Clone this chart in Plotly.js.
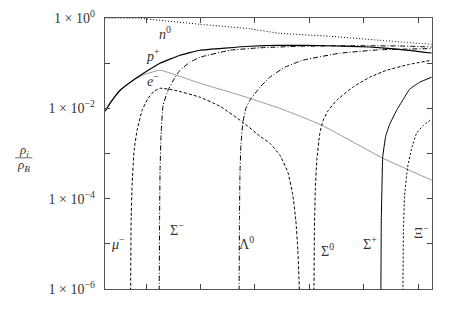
<!DOCTYPE html>
<html>
<head>
<meta charset="utf-8">
<script src="https://cdn.plot.ly/plotly-3.0.1.min.js"></script>
<style>html,body{margin:0;padding:0;background:#fff;}#chart{width:454px;height:319px;}</style>
</head>
<body>
<div id="chart"></div>
<script>
// x: baryon density (arbitrary units, unlabeled axis); y: rho_i / rho_B
const nX = [0.248, 0.890, 1.257, 1.991, 2.908, 3.459, 4.376, 5.294, 6.248];
const nY = [1.0, 0.985, 0.889, 0.726, 0.577, 0.458, 0.394, 0.321, 0.262];

const pX = [0.248, 0.339, 0.523, 0.761, 0.982, 1.257, 1.624, 1.991, 2.908, 3.459, 4.376, 5.110, 5.661, 6.248];
const pY = [0.00863, 0.0130, 0.0251, 0.0418, 0.0630, 0.0995, 0.150, 0.193, 0.237, 0.249, 0.243, 0.228, 0.203, 0.168];

const eX = [0.248, 0.339, 0.523, 0.761, 0.982, 1.257, 1.991, 2.725, 3.459, 4.229, 5.349, 6.248];
const eY = [0.00863, 0.0130, 0.0251, 0.0418, 0.0568, 0.0697, 0.0359, 0.0195, 0.0100, 0.00423, 0.00079, 0.000257];

const muX = [0.706, 0.716, 0.725, 0.743, 0.780, 0.835, 0.927, 1.037, 1.147, 1.257, 1.532, 1.991, 2.358, 2.780, 3.092, 3.275, 3.459, 3.606, 3.697, 3.752, 3.789, 3.817, 3.826];
const muY = [1.2e-7, 1.0e-6, 3.34e-5, 1.99e-4, 1.18e-3, 3.27e-3, 9.08e-3, 0.0167, 0.0239, 0.0279, 0.0251, 0.0176, 0.0111, 0.00492, 0.00242, 0.00169, 0.00092, 0.000385, 0.000119, 3.34e-5, 7.26e-6, 1.0e-6, 1.2e-7];

const smX = [1.239, 1.242, 1.248, 1.257, 1.275, 1.312, 1.404, 1.532, 1.624, 1.807, 1.991, 2.541, 3.092, 3.826, 4.743, 5.661, 6.248];
const smY = [1.2e-7, 1.0e-6, 3.34e-5, 4.28e-4, 2.54e-3, 0.0117, 0.0251, 0.0488, 0.0697, 0.105, 0.135, 0.193, 0.219, 0.237, 0.243, 0.240, 0.228];

const lamX = [2.706, 2.710, 2.716, 2.725, 2.743, 2.780, 2.835, 2.908, 3.092, 3.275, 3.550, 3.881, 4.560, 5.294, 6.248];
const lamY = [1.2e-7, 1e-6, 3.34e-5, 3.31e-4, 1.53e-3, 4.92e-3, 0.0100, 0.0151, 0.0293, 0.0488, 0.0813, 0.116, 0.166, 0.198, 0.210];

const s0X = [4.083, 4.086, 4.094, 4.110, 4.138, 4.193, 4.248, 4.339, 4.505, 4.798, 5.110, 5.422, 5.844, 6.248];
const s0Y = [1.2e-7, 1e-6, 2.01e-5, 1.54e-4, 7.11e-4, 2.81e-3, 5.19e-3, 8.63e-3, 0.0151, 0.0293, 0.0488, 0.0697, 0.0946, 0.116];

const spX = [5.312, 5.316, 5.323, 5.336, 5.349, 5.404, 5.477, 5.606, 5.716, 5.844, 6.028, 6.248];
const spY = [1.2e-7, 1e-6, 3.34e-5, 1.99e-4, 8.28e-4, 2.41e-3, 4.45e-3, 9.08e-3, 0.0151, 0.0265, 0.0378, 0.0488];

const xiX = [5.716, 5.721, 5.730, 5.752, 5.807, 5.881, 5.972, 6.101, 6.248];
const xiY = [1.2e-7, 1e-6, 2.01e-5, 1.19e-4, 4.98e-4, 1.31e-3, 2.81e-3, 4.23e-3, 5.74e-3];

const yTickVals = [1, 0.1, 0.01, 0.001, 1e-4, 1e-5, 1e-6];
const yTickText = ['1 × 10<sup>0</sup>', '', '1 × 10<sup>−2</sup>', '', '1 × 10<sup>−4</sup>', '', '1 × 10<sup>−6</sup>'];
const xTickVals = [1, 2, 3, 4, 5, 6];

const labels = [
  {t: '<i>n</i><sup>0</sup>', x: 1.35, y: -0.34},
  {t: '<i>p</i><sup>+</sup>', x: 1.13, y: -0.83},
  {t: '<i>e</i><sup>−</sup>', x: 1.13, y: -1.38},
  {t: '<i>μ</i><sup>−</sup>', x: 0.49, y: -4.98},
  {t: 'Σ<sup>−</sup>', x: 1.57, y: -4.68},
  {t: 'Λ<sup>0</sup>', x: 2.85, y: -4.98},
  {t: 'Σ<sup>0</sup>', x: 4.34, y: -5.14},
  {t: 'Σ<sup>+</sup>', x: 5.11, y: -4.98},
  {t: 'Ξ<sup>−</sup>', x: 6.06, y: -4.74}
];

const sh = 'spline';
const sm = 0.35;
function tr(x, y, color, dash, w) {
  return {x: x, y: y, type: 'scatter', mode: 'lines', showlegend: false, hoverinfo: 'skip',
    line: {color: color, dash: dash, width: w || 1, shape: sh, smoothing: sm}};
}

const data = [
  tr(nX, nY, '#000', '1px,2px'),
  tr(eX, eY, '#999', 'solid'),
  tr(pX, pY, '#000', 'solid', 1.2),
  tr(muX, muY, '#000', '3px,2px'),
  tr(smX, smY, '#000', '5px,2px,1px,2px'),
  tr(lamX, lamY, '#000', '5px,2px,1px,2px'),
  tr(s0X, s0Y, '#000', '3px,2px'),
  tr(spX, spY, '#000', 'solid'),
  tr(xiX, xiY, '#000', '2px,2px')
];

const fam = '"Liberation Serif", "DejaVu Serif", serif';
const font = {family: fam, size: 14, color: '#222'};

const annotations = labels.map(l => ({
  text: l.t, x: l.x, y: l.y, xref: 'x', yref: 'y', showarrow: false,
  xanchor: 'center', yanchor: 'middle',
  font: {family: fam, size: 14, color: '#333'}
}));
annotations.push({text: '<i>ρ<sub>i</sub></i>', xref: 'paper', yref: 'paper', x: -0.248, y: 0.51, xanchor: 'center', yanchor: 'middle', showarrow: false, font: {family: fam, size: 13, color: '#333'}});
annotations.push({text: '<i>ρ<sub>B</sub></i>', xref: 'paper', yref: 'paper', x: -0.248, y: 0.455, xanchor: 'center', yanchor: 'middle', showarrow: false, font: {family: fam, size: 13, color: '#333'}});

const layout = {
  width: 454, height: 319,
  margin: {l: 105, r: 22, t: 18, b: 30},
  paper_bgcolor: '#fff', plot_bgcolor: '#fff',
  font: font,
  xaxis: {range: [0.245, 6.255], tickvals: xTickVals, ticktext: ['', '', '', '', '', ''],
    ticks: 'inside', ticklen: 5, tickcolor: '#444', showgrid: false, zeroline: false,
    showline: true, linecolor: '#555', linewidth: 1.3, mirror: 'ticks'},
  yaxis: {type: 'log', range: [-6, 0], tickvals: yTickVals, ticktext: yTickText,
    ticks: 'inside', ticklen: 5, tickcolor: '#444', showgrid: false, zeroline: false,
    showline: true, linecolor: '#555', linewidth: 1.3, mirror: 'ticks', ticklabelstandoff: 6,
    tickfont: {family: fam, size: 14, color: '#333'}},
  annotations: annotations,
  shapes: [{type: 'line', xref: 'paper', yref: 'paper', x0: -0.275, x1: -0.222, y0: 0.484, y1: 0.484, line: {color: '#444', width: 0.8}}]
};

Plotly.newPlot('chart', data, layout, {staticPlot: true, displayModeBar: false});
</script>
</body>
</html>
